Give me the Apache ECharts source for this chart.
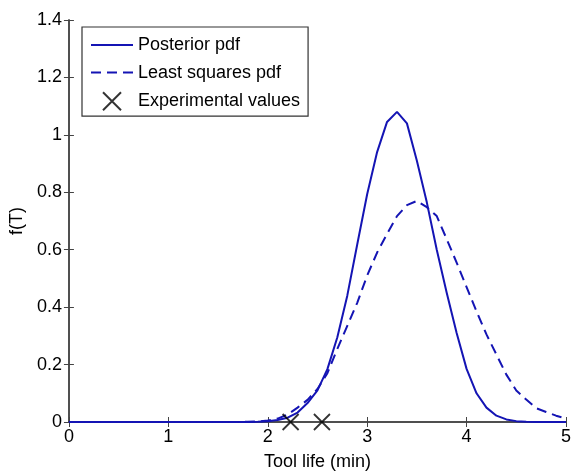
<!DOCTYPE html>
<html>
<head>
<meta charset="UTF-8">
<title>Tool life pdf</title>
<script src="https://cdn.jsdelivr.net/npm/echarts@6/dist/echarts.min.js"></script>
<style>
  html, body { margin: 0; padding: 0; background: #fff; }
  #main { width: 574px; height: 476px; }
</style>
</head>
<body>
<div id="main"></div>
<script>
// tool life grid (min)
var toolLife = [0.0, 0.1, 0.2, 0.3, 0.4, 0.5, 0.6, 0.7, 0.8, 0.9,
                1.0, 1.1, 1.2, 1.3, 1.4, 1.5, 1.6, 1.7, 1.8, 1.9,
                2.0, 2.1, 2.2, 2.3, 2.4, 2.5, 2.6, 2.7, 2.8, 2.9,
                3.0, 3.1, 3.2, 3.3, 3.4, 3.5, 3.6, 3.7, 3.8, 3.9,
                4.0, 4.1, 4.2, 4.3, 4.4, 4.5, 4.6, 4.7, 4.8, 4.9, 5.0];
var posterior = [0, 0, 0, 0, 0, 0, 0, 0, 0, 0,
                 0, 0, 0, 0, 0, 0, 0, 0, 0, 0.001,
                 0.003, 0.007, 0.015, 0.033, 0.066, 0.11, 0.184, 0.295, 0.44, 0.618,
                 0.793, 0.94, 1.045, 1.08, 1.04, 0.91, 0.765, 0.60, 0.45, 0.31,
                 0.185, 0.10, 0.05, 0.022, 0.009, 0.003, 0.001, 0, 0, 0, 0];
var leastSquares = [0, 0, 0, 0, 0, 0, 0, 0, 0, 0,
                    0, 0, 0, 0, 0, 0, 0, 0, 0.001, 0.002,
                    0.005, 0.012, 0.026, 0.05, 0.077, 0.115, 0.17, 0.255, 0.335, 0.415,
                    0.51, 0.59, 0.655, 0.717, 0.755, 0.77, 0.748, 0.717, 0.637, 0.555,
                    0.47, 0.385, 0.305, 0.235, 0.165, 0.11, 0.078, 0.048, 0.035, 0.022, 0.012];
var experimental = [2.23, 2.545];

var font = '"Liberation Sans", Arial, sans-serif';
var blue = '#1414b4';

function pairs(xs, ys) {
  var out = [];
  for (var i = 0; i < xs.length; i++) out.push([xs[i], ys[i]]);
  return out;
}

var myChart = echarts.init(document.getElementById('main'));

var boxAxis = {
  axisLine: { show: true, lineStyle: { color: '#444', width: 1.5 } },
  axisTick: { show: true, inside: true, length: 5, lineStyle: { color: '#444' } },
  splitLine: { show: false }
};

var noMarker = { color: 'rgba(0,0,0,0)', borderWidth: 0, opacity: 0 };

var option = {
  animation: false,
  backgroundColor: '#fff',
  grid: { left: 65, right: 2, top: 20, bottom: 53 },
  legend: {
    orient: 'vertical',
    left: 82, top: 27,
    padding: [9, 8, 5, 8],
    itemWidth: 42, itemHeight: 18, itemGap: 9.6,
    backgroundColor: '#fff',
    borderColor: '#333', borderWidth: 1.2, borderRadius: 0,
    textStyle: { fontFamily: font, fontSize: 18, color: '#000' },
    data: [
      { name: 'Posterior pdf', itemStyle: noMarker },
      { name: 'Least squares pdf', itemStyle: noMarker },
      'Experimental values'
    ]
  },
  xAxis: [
    Object.assign({
      type: 'value', min: 0, max: 5, interval: 1,
      name: 'Tool life (min)', nameLocation: 'middle', nameGap: 31,
      nameTextStyle: { fontFamily: font, fontSize: 18, color: '#000' },
      axisLabel: { fontFamily: font, fontSize: 18, color: '#000', margin: 6 }
    }, boxAxis),
    Object.assign({
      type: 'value', min: 0, max: 5, interval: 1, position: 'top',
      axisLabel: { show: false }
    }, boxAxis)
  ],
  yAxis: [
    Object.assign({
      type: 'value', min: 0, max: 1.4, interval: 0.2,
      name: 'f(T)', nameLocation: 'middle', nameGap: 36,
      nameTextStyle: { fontFamily: font, fontSize: 18, color: '#000' },
      axisLabel: { fontFamily: font, fontSize: 18, color: '#000', margin: 7 }
    }, boxAxis),
    Object.assign({
      type: 'value', min: 0, max: 1.4, interval: 0.2, position: 'right',
      axisLabel: { show: false }
    }, boxAxis)
  ],
  series: [
    {
      name: 'Posterior pdf',
      type: 'line',
      data: pairs(toolLife, posterior),
      symbol: 'none',
      lineStyle: { color: blue, width: 2 },
      itemStyle: { color: blue }
    },
    {
      name: 'Least squares pdf',
      type: 'line',
      data: pairs(toolLife, leastSquares),
      symbol: 'none',
      lineStyle: { color: blue, width: 2, type: [10, 6] },
      itemStyle: { color: blue }
    },
    {
      name: 'Experimental values',
      type: 'scatter',
      data: experimental.map(function (t) { return [t, 0]; }),
      symbol: 'path://M0,0L10,10M10,0L0,10',
      symbolSize: 16,
      clip: false,
      z: 5,
      itemStyle: { color: 'rgba(0,0,0,0)', borderColor: '#000', borderWidth: 1.8 }
    }
  ]
};

myChart.setOption(option);
</script>
</body>
</html>
